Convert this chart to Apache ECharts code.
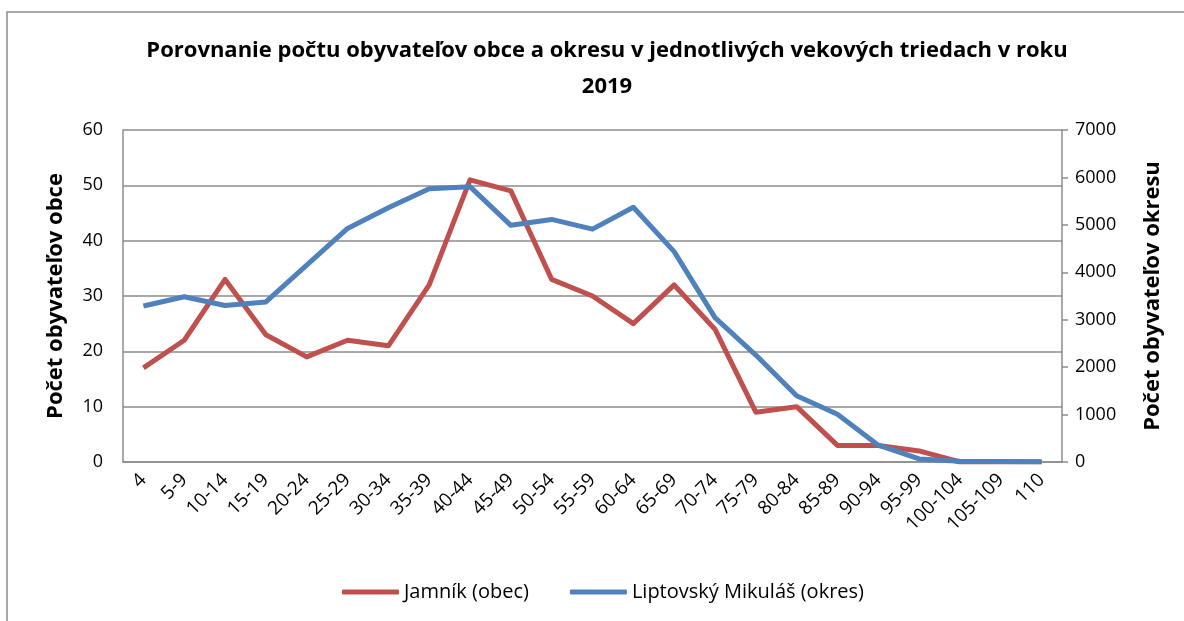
<!DOCTYPE html>
<html>
<head>
<meta charset="utf-8">
<script src="https://cdn.jsdelivr.net/npm/echarts@6/dist/echarts.min.js"></script>
<style>
html,body{margin:0;padding:0;background:#fff;}
#c{width:1184px;height:621px;}
</style>
</head>
<body>
<div id="c"></div>
<script>
const categories = ['4','5-9','10-14','15-19','20-24','25-29','30-34','35-39','40-44','45-49','50-54','55-59','60-64','65-69','70-74','75-79','80-84','85-89','90-94','95-99','100-104','105-109','110'];
const obecValues = [17,22,33,23,19,22,21,32,51,49,33,30,25,32,24,9,10,3,3,2,0,0,0];
const okresValues = [3290,3485,3300,3375,4150,4925,5360,5760,5805,4990,5115,4910,5370,4435,3045,2255,1395,1005,355,65,15,10,3];
const leftTicks = {min:0,max:60,interval:10};
const rightTicks = {min:0,max:7000,interval:1000};
const titleText = 'Porovnanie počtu obyvateľov obce a okresu v jednotlivých vekových triedach v roku\n2019';
const leftName = 'Počet obyvateľov obce';
const rightName = 'Počet obyvateľov okresu';
const seriesNames = ['Jamník (obec)','Liptovský Mikuláš (okres)'];

const FONT = '"Open Sans"';
const chart = echarts.init(document.getElementById('c'), null, {renderer:'canvas'});
chart.setOption({
  animation:false,
  backgroundColor:'#fff',
  textStyle:{fontFamily:FONT},
  graphic:[{type:'polyline',shape:{points:[[7,700],[7,12],[1300,12]]},style:{stroke:'#8c8c8c',lineWidth:1.5,fill:null},silent:true}],
  title:{text:titleText,left:602,top:28,textAlign:'center',
    textStyle:{fontFamily:FONT,fontWeight:'bold',fontSize:22,color:'#000',lineHeight:36}},
  legend:{left:337,top:577,itemWidth:57,itemHeight:5,itemGap:41,icon:'roundRect',
    textStyle:{fontFamily:FONT,fontSize:20,color:'#000'},
    data:seriesNames},
  grid:{left:123,right:122,top:130,bottom:159,containLabel:false,outerBoundsMode:'none'},
  xAxis:{type:'category',data:categories,boundaryGap:true,
    axisLine:{lineStyle:{color:'#8c8c8c',width:1.5}},axisTick:{show:false},
    axisLabel:{rotate:45,fontFamily:FONT,fontSize:19,color:'#000',margin:15,interval:0}},
  yAxis:[
    {type:'value',min:leftTicks.min,max:leftTicks.max,interval:leftTicks.interval,position:'left',
     name:leftName,nameLocation:'middle',nameGap:56,
     nameTextStyle:{fontFamily:FONT,fontWeight:'bold',fontSize:22,color:'#000'},
     axisLine:{show:true,lineStyle:{color:'#8c8c8c',width:1.5}},axisTick:{show:false},
     axisLabel:{fontFamily:FONT,fontSize:18,color:'#000',margin:20},
     splitLine:{show:true,lineStyle:{color:'#8c8c8c',width:1.5}}},
    {type:'value',min:rightTicks.min,max:rightTicks.max,interval:rightTicks.interval,position:'right',
     name:rightName,nameLocation:'middle',nameGap:80,nameRotate:90,
     nameTextStyle:{fontFamily:FONT,fontWeight:'bold',fontSize:22,color:'#000'},
     axisLine:{show:true,lineStyle:{color:'#8c8c8c',width:1.5}},
     axisTick:{show:true,inside:false,length:6,lineStyle:{color:'#8c8c8c',width:1.5}},
     axisLabel:{fontFamily:FONT,fontSize:18,color:'#000',margin:13,formatter:function(v){return String(v);}},
     splitLine:{show:false}}
  ],
  series:[
    {name:seriesNames[0],type:'line',yAxisIndex:0,data:obecValues,symbol:'none',
     lineStyle:{color:'#C0504D',width:5,join:'round'},itemStyle:{color:'#C0504D'}},
    {name:seriesNames[1],type:'line',yAxisIndex:1,data:okresValues,symbol:'none',
     lineStyle:{color:'#4F81BD',width:5,join:'round'},itemStyle:{color:'#4F81BD'}}
  ]
});
</script>
</body>
</html>
